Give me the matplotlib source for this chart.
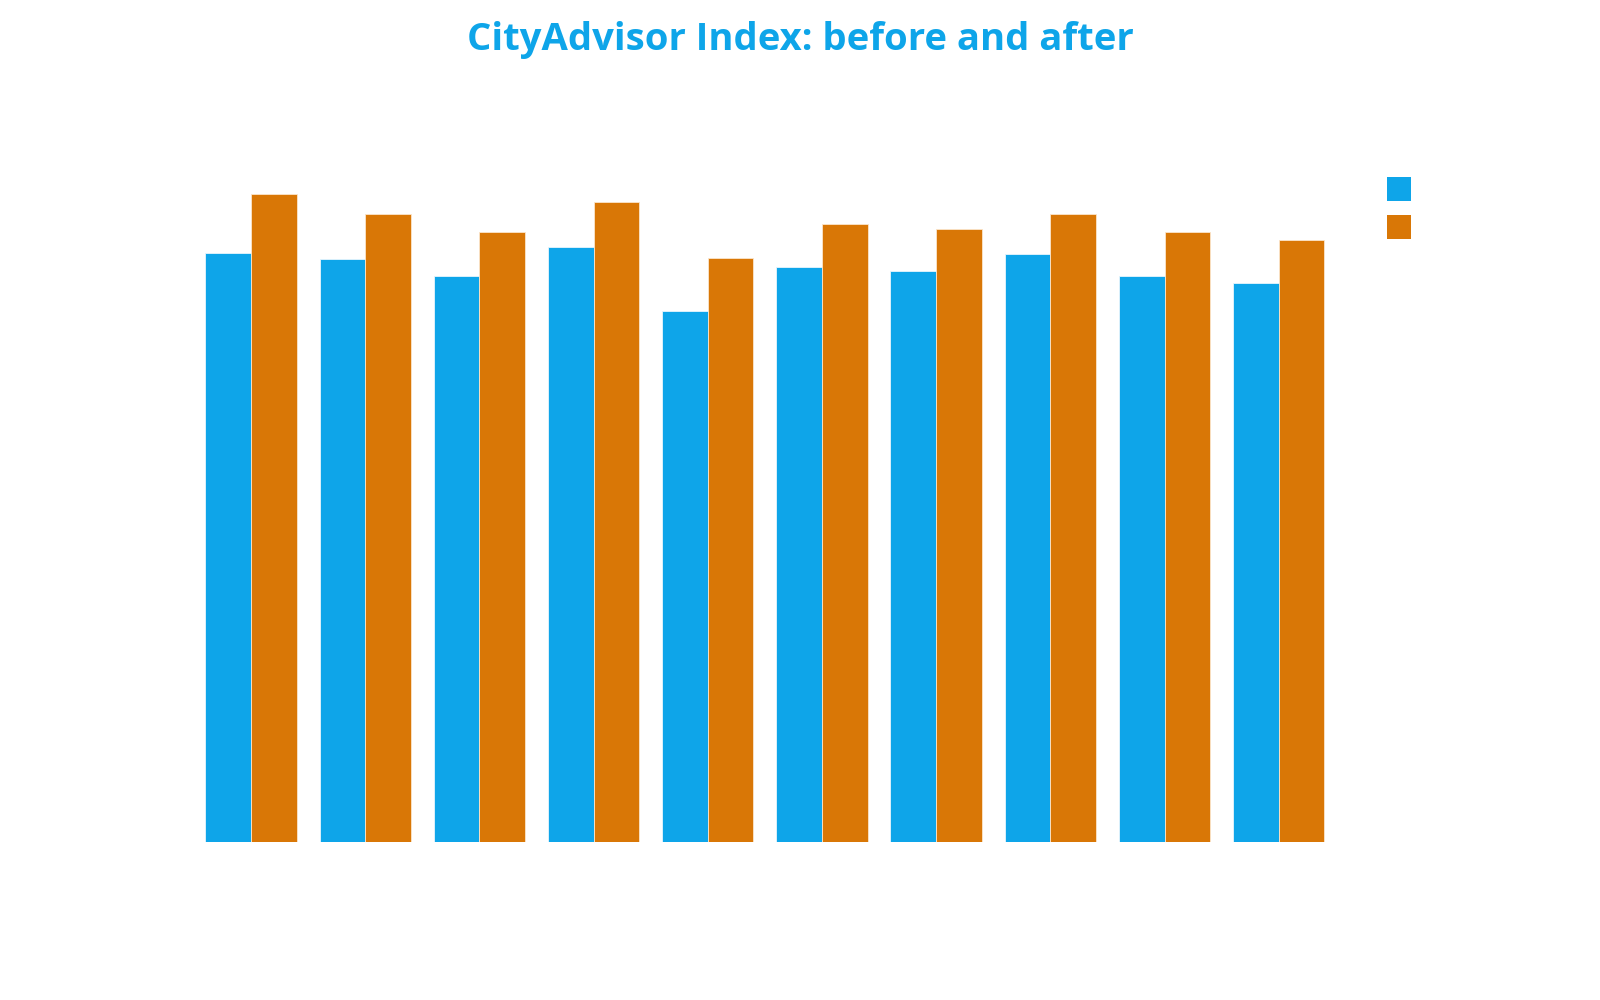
import matplotlib
matplotlib.use("Agg")
import matplotlib.pyplot as plt
import numpy as np
from matplotlib.patches import Patch

# ---- data ----
categories = ["City 1", "City 2", "City 3", "City 4", "City 5",
              "City 6", "City 7", "City 8", "City 9", "City 10"]
series_names = ["Before", "After"]
before = [80.7, 79.8, 77.5, 81.5, 72.8, 78.7, 78.2, 80.5, 77.6, 76.6]
after = [88.8, 86.0, 83.6, 87.7, 80.0, 84.6, 84.0, 86.0, 83.5, 82.5]
colors = ["#0EA5E9", "#D97706"]

fig = plt.figure(figsize=(16, 10), dpi=100)
ax = fig.add_axes([193.9 / 1600, 0.158, 1141.9 / 1600, 0.730])

x = np.arange(len(categories))
w = 0.4
ax.bar(x - w / 2, before, width=w, color=colors[0], edgecolor="#e8f6fd", linewidth=0.6)
ax.bar(x + w / 2, after, width=w, color=colors[1], edgecolor="#fbe6cc", linewidth=0.6)
ax.set_xlim(-0.5, len(categories) - 0.5)
ax.set_ylim(0, 100)
ax.axis("off")

fig.suptitle("CityAdvisor Index: before and after", x=0.5, y=1 - 40 / 1000,
             va="center", ha="center", fontsize=27.5, fontweight="bold",
             color=colors[0], family=["Open Sans", "DejaVu Sans"])

fs = 17.28
handles = [Patch(facecolor=c, edgecolor="none") for c in colors]
fig.legend(handles, ["", ""], loc="upper left",
           bbox_to_anchor=(1387 / 1600, 1 - 177 / 1000),
           frameon=False, fontsize=fs, handlelength=1.0, handleheight=1.1615,
           handletextpad=0, borderpad=0, borderaxespad=0, labelspacing=0.55)

fig.savefig("out.png", dpi=100, facecolor="white")
